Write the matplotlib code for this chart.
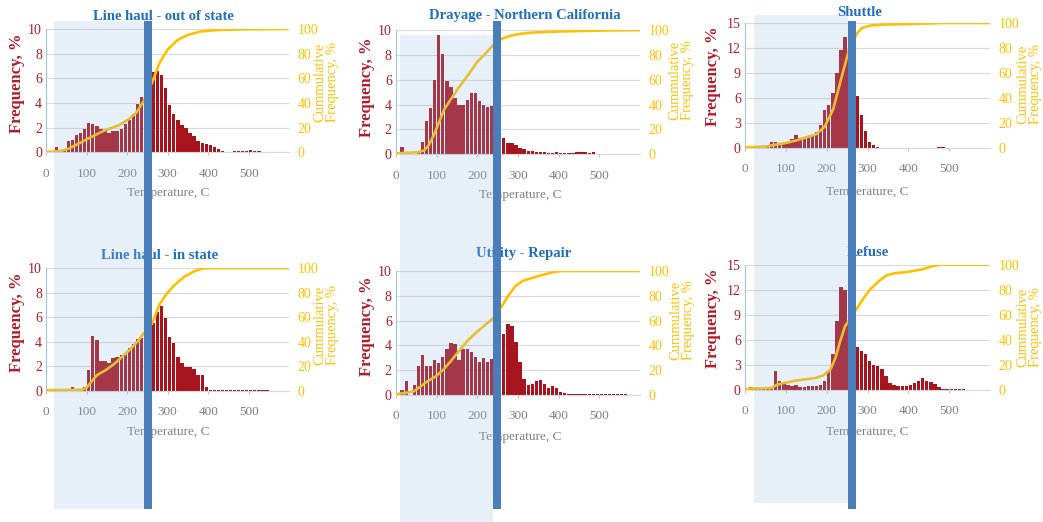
import matplotlib
matplotlib.use("Agg")
import matplotlib.pyplot as plt
from matplotlib.patches import Rectangle
import numpy as np

W, H = 1043, 522
plt.rcParams['font.family'] = ['Liberation Serif', 'DejaVu Serif']

# temperature bins, 10 C wide
bins = np.arange(0, 600, 10)

# frequency per bin, %
freq_lh_out = [0.05, 0.1, 0.4, 0.05, 0.3, 0.9, 1.0, 1.4, 1.6, 1.9,
               2.4, 2.3, 2.1, 1.9, 1.7, 1.6, 1.7, 1.75, 1.9, 2.3,
               2.6, 3.1, 3.9, 4.5, 5.2, 6.0, 6.5, 6.6, 6.3, 5.2,
               3.8, 3.1, 2.6, 2.2, 2.0, 1.6, 1.3, 0.9, 0.75, 0.7,
               0.6, 0.4, 0.25, 0.1, 0.05, 0.05, 0.1, 0.1, 0.1, 0.1,
               0.15, 0.1, 0.1, 0.05, 0.05, 0.05, 0.05, 0.05, 0.05, 0.05]
freq_drayage = [0, 0.55, 0, 0, 0, 0.3, 1.0, 2.7, 3.7, 6.0,
                9.6, 8.1, 5.9, 5.4, 4.5, 4.0, 4.0, 4.4, 4.9, 4.9,
                4.3, 4.0, 3.8, 3.9, 3.0, 1.95, 1.3, 0.9, 0.9, 0.75,
                0.5, 0.4, 0.3, 0.25, 0.2, 0.2, 0.2, 0.1, 0.1, 0.15,
                0.1, 0.1, 0.1, 0.1, 0.15, 0.15, 0.15, 0.1, 0.15, 0.05,
                0.05, 0.05, 0.05, 0.05, 0.05, 0.05, 0.05, 0.05, 0, 0]
freq_shuttle = [0.05, 0.05, 0.05, 0.05, 0.05, 0.15, 0.75, 0.7, 0.45, 0.45,
                0.6, 1.1, 1.6, 1.2, 1.3, 1.3, 1.5, 1.9, 2.7, 4.5,
                5.1, 6.6, 9.0, 11.8, 13.3, 11.0, 8.4, 6.2, 3.9, 2.1,
                0.7, 0.4, 0.15, 0.05, 0.05, 0.05, 0.05, 0.05, 0.05, 0.05,
                0.05, 0.05, 0.05, 0.05, 0.05, 0.05, 0.05, 0.1, 0.1, 0.05,
                0.05, 0.05, 0.05, 0.05, 0.05, 0, 0, 0, 0, 0]
freq_lh_in = [0, 0, 0, 0, 0, 0, 0.3, 0.15, 0.15, 0.3,
              1.7, 4.5, 4.15, 2.45, 2.45, 2.25, 2.65, 2.75, 2.9, 3.1,
              3.5, 3.85, 4.2, 4.3, 4.5, 4.8, 5.5, 6.4, 6.9, 5.9,
              4.4, 3.9, 2.75, 2.3, 1.95, 1.95, 1.8, 1.3, 1.3, 0.3,
              0.05, 0.05, 0.05, 0.05, 0.05, 0.05, 0.05, 0.05, 0.05, 0.05,
              0.05, 0.05, 0.05, 0.05, 0.05, 0, 0, 0, 0, 0]
freq_utility = [0.05, 0.4, 1.1, 0, 0.8, 2.3, 3.2, 2.3, 2.3, 2.8,
                2.6, 3.05, 3.7, 4.2, 4.1, 2.8, 3.7, 3.7, 3.5, 3.1,
                2.7, 3.0, 2.7, 2.9, 3.2, 3.4, 4.9, 5.7, 5.6, 4.3,
                2.7, 1.3, 0.8, 0.9, 1.15, 1.2, 0.9, 0.55, 0.7, 0.55,
                0.25, 0.15, 0.05, 0.05, 0.05, 0.05, 0.05, 0.05, 0.05, 0.05,
                0.05, 0.05, 0.05, 0.05, 0.05, 0.05, 0.05, 0, 0, 0]
freq_refuse = [0.05, 0.35, 0.05, 0.05, 0.05, 0.05, 0.05, 2.3, 1.0, 0.65,
               0.55, 0.5, 0.55, 0.3, 0.3, 0.4, 0.45, 0.5, 0.6, 1.1,
               2.3, 4.3, 8.3, 12.3, 12.0, 8.0, 5.6, 5.1, 4.6, 4.3,
               3.5, 3.0, 2.85, 2.5, 1.7, 0.85, 0.6, 0.5, 0.5, 0.5,
               0.6, 0.8, 1.0, 1.35, 1.1, 0.95, 0.65, 0.3, 0.1, 0.05,
               0.05, 0.05, 0.05, 0.05, 0, 0, 0, 0, 0, 0]

# cumulative frequency, %
cum_x_lh_out = [3, 36, 56, 77, 97, 118, 139, 159, 180, 200, 221, 240, 262, 279,
                299, 324, 348, 381, 423, 488, 595]
cum_y_lh_out = [0.3, 1, 3, 6.5, 10, 13.5, 17, 19.5, 22, 26, 31.6, 41, 57, 72,
                83, 91, 95, 98, 99.2, 99.7, 100]
cum_x_drayage = [3, 28, 52, 69, 81, 93, 106, 118, 139, 159, 180, 200, 220, 239,
                 259, 282, 307, 339, 389, 454, 528, 600]
cum_y_drayage = [0.8, 1.3, 1.6, 3, 7.5, 15.5, 26, 35.7, 46.4, 55.8, 65, 74.5, 81, 88,
                 92.8, 95.4, 97, 98, 98.7, 99.2, 99.7, 100]
cum_x_shuttle = [0, 54, 75, 100, 125, 150, 174, 195, 216, 236, 255, 275, 286, 307,
                 340, 406, 488, 600]
cum_y_shuttle = [0.5, 1.3, 2.7, 4, 6, 8.5, 11, 17, 31, 56, 79, 92, 96, 98,
                 98.7, 99.2, 100, 100]
cum_x_lh_in = [3, 44, 85, 98, 110, 126, 147, 168, 188, 208, 225, 240, 262, 279,
               295, 316, 340, 365, 385, 406, 505, 600]
cum_y_lh_in = [0.8, 0.8, 1, 2, 7, 13, 17, 22, 28, 34, 40, 46.6, 55, 70,
               78, 86, 92.7, 97.3, 99.5, 100, 100, 100]
cum_x_utility = [3, 28, 44, 61, 77, 98, 118, 134, 155, 175, 196, 216, 239, 261,
                 278, 294, 311, 331, 356, 389, 405, 598]
cum_y_utility = [0.8, 2, 3, 7, 11, 15, 21, 27, 35.5, 43.5, 50, 55.6, 62, 72,
                 81, 88, 92, 94, 96.5, 99.2, 100, 100]
cum_x_refuse = [0, 17, 42, 66, 78, 99, 123, 148, 172, 192, 209, 221, 233, 245,
                274, 290, 306, 327, 347, 368, 392, 416, 437, 457, 478, 596]
cum_y_refuse = [0, 1, 1, 1.5, 4, 5.6, 7.2, 8.3, 9.3, 11.5, 16, 25, 38.7, 50.7,
                65, 73, 80, 86.7, 91.5, 93.3, 93.9, 95.2, 96.5, 98.7, 100, 100]

titles = ["Line haul - out of state", "Drayage - Northern California", "Shuttle",
          "Line haul - in state", "Utility - Repair", "Refuse"]
xtick_values = [0, 100, 200, 300, 400, 500]
cum_ticks = [0, 20, 40, 60, 80, 100]

BAR_RED = '#A8141E'
LABEL_RED = '#B31B28'
GOLD = '#FFC000'
TITLE_BLUE = '#1F6FBF'
GRAY = '#7F7F7F'
GRID = '#D9D9D9'


def px(x, y):
    return x / W, 1 - y / H


# panel layout in pixels: left, right, top, bottom of plot area,
# then title, x label, left label and right label centres
panels = [
    dict(freq=freq_lh_out, cx=cum_x_lh_out, cy=cum_y_lh_out, ymax=10, ystep=2,
         box=(46.2, 289.2, 29, 152.3), title=(163, 16), xl=(168, 193),
         yl=(17, 83), yr=(326, 82)),
    dict(freq=freq_drayage, cx=cum_x_drayage, cy=cum_y_drayage, ymax=10, ystep=2,
         box=(396, 640, 30, 154.3), title=(525, 15), xl=(520, 195),
         yl=(367, 87), yr=(681, 80)),
    dict(freq=freq_shuttle, cx=cum_x_shuttle, cy=cum_y_shuttle, ymax=15, ystep=3,
         box=(745, 990, 23, 148), title=(860, 12), xl=(867, 192),
         yl=(713, 76), yr=(1029, 84)),
    dict(freq=freq_lh_in, cx=cum_x_lh_in, cy=cum_y_lh_in, ymax=10, ystep=2,
         box=(46.2, 289.2, 268, 391), title=(160, 256), xl=(168, 432),
         yl=(17, 322), yr=(326, 325)),
    dict(freq=freq_utility, cx=cum_x_utility, cy=cum_y_utility, ymax=10, ystep=2,
         box=(396, 640, 271, 395), title=(524, 254), xl=(520, 437),
         yl=(367, 326), yr=(682, 320)),
    dict(freq=freq_refuse, cx=cum_x_refuse, cy=cum_y_refuse, ymax=15, ystep=3,
         box=(745, 990, 264.7, 389.7), title=(868, 253), xl=(867, 432),
         yl=(713, 318), yr=(1029, 327)),
]

fig = plt.figure(figsize=(W / 100, H / 100), dpi=100)
fig.patch.set_facecolor('white')

for name, p in zip(titles, panels):
    x0, x1, yt, yb = p['box']
    ax = fig.add_axes([x0 / W, 1 - yb / H, (x1 - x0) / W, (yb - yt) / H])
    ax.bar(bins + 1, p['freq'], width=8.2, align='edge', color=BAR_RED, linewidth=0)
    ax.set_xlim(0, 600)
    ax.set_ylim(0, p['ymax'])
    ax.set_xticks(xtick_values)
    ax.set_yticks(np.arange(0, p['ymax'] + 1, p['ystep']))
    ax.yaxis.grid(True, color=GRID, lw=0.8)
    ax.set_axisbelow(True)
    for side in ['top', 'right']:
        ax.spines[side].set_visible(False)
    ax.spines['left'].set_color('#9DC3E6')
    ax.spines['left'].set_linewidth(0.8)
    ax.spines['bottom'].set_color(GRID)
    ax.spines['bottom'].set_linewidth(0.8)
    ax.tick_params(axis='x', length=2, color='#BFBFBF', labelcolor=GRAY,
                   labelsize=9.5, pad=9)
    ax.tick_params(axis='y', length=0, labelcolor=LABEL_RED, labelsize=10, pad=3)

    ax2 = ax.twinx()
    ax2.plot(p['cx'], p['cy'], color=GOLD, lw=1.9, solid_capstyle='round')
    ax2.set_ylim(0, 100)
    ax2.set_yticks(cum_ticks)
    for s in ax2.spines.values():
        s.set_visible(False)
    ax2.tick_params(axis='y', length=0, labelcolor=GOLD, labelsize=10, pad=6)

    fig.text(*px(*p['title']), name, ha='center', va='center', fontsize=10.5,
             fontweight='bold', color=TITLE_BLUE)
    fig.text(*px(*p['xl']), "Temperature, C", ha='center', va='center',
             fontsize=9.5, color=GRAY)
    fig.text(*px(*p['yl']), "Frequency, %", ha='center', va='center', rotation=90,
             fontsize=12, fontweight='bold', color=LABEL_RED)
    fig.text(*px(*p['yr']), "Cummulative\nFrequency, %", ha='center', va='center',
             rotation=90, fontsize=10.5, color=GOLD, linespacing=0.95)

# shaded band and marker bar over each column
shades = [(54, 144, 20.7, 509), (400, 493.3, 35, 522), (754, 848, 15, 503)]
markers = [(144, 151.7, 20.7, 509), (493.3, 501, 20.7, 509), (848, 856, 20.7, 509)]
for x0, x1, yt, yb in shades:
    fig.add_artist(Rectangle(px(x0, yb), (x1 - x0) / W, (yb - yt) / H,
                             transform=fig.transFigure, facecolor='#96B9E6',
                             alpha=0.22, lw=0, zorder=20))
for x0, x1, yt, yb in markers:
    fig.add_artist(Rectangle(px(x0, yb), (x1 - x0) / W, (yb - yt) / H,
                             transform=fig.transFigure, facecolor='#4A7EBB',
                             lw=0, zorder=21))

fig.savefig('out.png', dpi=100)
